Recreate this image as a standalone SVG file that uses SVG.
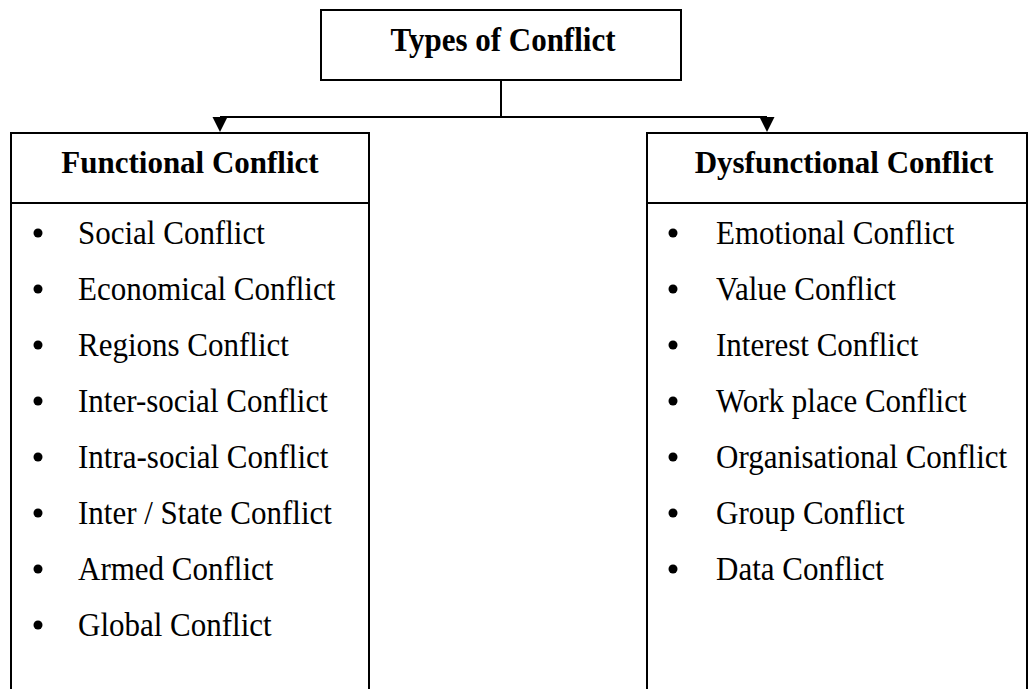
<svg xmlns="http://www.w3.org/2000/svg" width="1029" height="689" viewBox="0 0 1029 689">
<style>
.box{fill:#fff;stroke:#000;stroke-width:2}
.ln{fill:none;stroke:#000;stroke-width:2}
.hd{font-family:"Liberation Serif","Times New Roman",serif;font-weight:bold;font-size:31px;fill:#000}
.it{font-family:"Liberation Serif","Times New Roman",serif;font-size:31px;fill:#000}
.bl{fill:#000}
</style>
<rect width="1029" height="689" fill="#fff"/>
<g id="connectors">
<path class="ln" d="M501,80 V117"/>
<path class="ln" d="M220,117 H767"/>
<path d="M212.5,117 L227.5,117 L220,132 Z" fill="#000"/>
<path d="M759.5,117 L774.5,117 L767,132 Z" fill="#000"/>
</g>
<g id="types-of-conflict">
<rect class="box" x="321" y="10" width="360" height="70"/>
<text class="hd" transform="translate(503,51) scale(1,1.1)" text-anchor="middle">Types of Conflict</text>
</g>
<g id="functional-conflict">
<path class="ln" d="M11,700 V133 H369 V700"/>
<path class="ln" d="M11,203 H369"/>
<text class="hd" transform="translate(190,173) scale(1,1.05)" text-anchor="middle">Functional Conflict</text>
<g class="bl">
<circle cx="38" cy="233" r="4.5"/><circle cx="38" cy="289" r="4.5"/><circle cx="38" cy="345" r="4.5"/><circle cx="38" cy="401" r="4.5"/>
<circle cx="38" cy="457" r="4.5"/><circle cx="38" cy="513" r="4.5"/><circle cx="38" cy="569" r="4.5"/><circle cx="38" cy="625" r="4.5"/>
</g>
<text class="it" transform="translate(78,244) scale(1,1.07)">Social Conflict</text>
<text class="it" transform="translate(78,300) scale(1,1.07)">Economical Conflict</text>
<text class="it" transform="translate(78,356) scale(1,1.07)">Regions Conflict</text>
<text class="it" transform="translate(78,412) scale(1,1.07)">Inter-social Conflict</text>
<text class="it" transform="translate(78,468) scale(1,1.07)">Intra-social Conflict</text>
<text class="it" transform="translate(78,524) scale(1,1.07)">Inter / State Conflict</text>
<text class="it" transform="translate(78,580) scale(1,1.07)">Armed Conflict</text>
<text class="it" transform="translate(78,636) scale(1,1.07)">Global Conflict</text>
</g>
<g id="dysfunctional-conflict">
<path class="ln" d="M647,700 V133 H1027 V700"/>
<path class="ln" d="M647,203 H1027"/>
<text class="hd" transform="translate(844,173) scale(1,1.05)" text-anchor="middle">Dysfunctional Conflict</text>
<g class="bl">
<circle cx="673" cy="233" r="4.5"/><circle cx="673" cy="289" r="4.5"/><circle cx="673" cy="345" r="4.5"/><circle cx="673" cy="401" r="4.5"/>
<circle cx="673" cy="457" r="4.5"/><circle cx="673" cy="513" r="4.5"/><circle cx="673" cy="569" r="4.5"/>
</g>
<text class="it" transform="translate(716,244) scale(1,1.07)">Emotional Conflict</text>
<text class="it" transform="translate(716,300) scale(1,1.07)">Value Conflict</text>
<text class="it" transform="translate(716,356) scale(1,1.07)">Interest Conflict</text>
<text class="it" transform="translate(716,412) scale(1,1.07)">Work place Conflict</text>
<text class="it" transform="translate(716,468) scale(1,1.07)">Organisational Conflict</text>
<text class="it" transform="translate(716,524) scale(1,1.07)">Group Conflict</text>
<text class="it" transform="translate(716,580) scale(1,1.07)">Data Conflict</text>
</g>
</svg>
